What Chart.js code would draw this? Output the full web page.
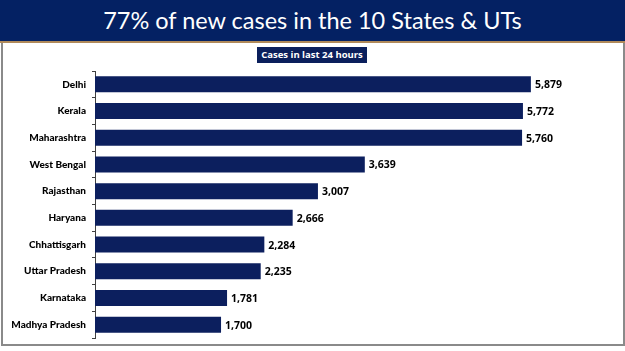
<!DOCTYPE html>
<html>
<head>
<meta charset="utf-8">
<script src="https://cdn.jsdelivr.net/npm/chart.js@4"></script>
<style>
  html, body { margin: 0; padding: 0; background: #ffffff; }
  #wrap { position: relative; width: 625px; height: 351px; overflow: hidden; background: #fff; }
  #band { position: absolute; left: 0; top: 0; width: 625px; height: 41px; background: #042163;
          border-bottom: 2px solid #b08a5a; box-sizing: content-box; }
  #title { position: absolute; left: 0; top: 4px; width: 625px; text-align: center; color: #ffffff;
           font-family: Lato, "Open Sans", sans-serif; font-size: 23.5px; line-height: 32px; }
  #panel { position: absolute; left: 1px; top: 43px; width: 620px; height: 301px;
           border-left: 2px solid #8a8a8a; border-right: 2px solid #8a8a8a; border-bottom: 2px solid #8a8a8a; }
  #sub { position: absolute; left: 257px; top: 47px; width: 110px; height: 16px; background: #0a1f5c;
         color: #fff; font-family: "Open Sans", sans-serif; font-weight: bold; font-size: 9.5px;
         line-height: 16px; text-align: center; white-space: nowrap; }
  canvas { position: absolute; left: 0; top: 0; }
</style>
</head>
<body>
<div id="wrap">
  <div id="band"><div id="title">77% of new cases in the 10 States &amp; UTs</div></div>
  <div id="panel"></div>
  <div id="sub">Cases in last 24 hours</div>
  <canvas id="c" width="625" height="351"></canvas>
</div>
<script>
const states = ["Delhi", "Kerala", "Maharashtra", "West Bengal", "Rajasthan", "Haryana", "Chhattisgarh", "Uttar Pradesh", "Karnataka", "Madhya Pradesh"];
const cases = [5879, 5772, 5760, 3639, 3007, 2666, 2284, 2235, 1781, 1700];

const valueLabels = {
  id: 'valueLabels',
  afterDatasetsDraw(chart) {
    const ctx = chart.ctx;
    const meta = chart.getDatasetMeta(0);
    ctx.save();
    ctx.font = 'bold 10.5px "Open Sans", sans-serif';
    ctx.fillStyle = '#000';
    ctx.textAlign = 'left';
    ctx.textBaseline = 'middle';
    meta.data.forEach((bar, i) => {
      ctx.fillText(cases[i].toLocaleString('en-US'), bar.x + 4, bar.y + 1);
    });
    ctx.restore();
  }
};

new Chart(document.getElementById('c'), {
  type: 'bar',
  data: {
    labels: states,
    datasets: [{
      data: cases,
      backgroundColor: '#0c1f5e',
      borderWidth: 0,
      categoryPercentage: 0.6,
      barPercentage: 1.0
    }]
  },
  options: {
    indexAxis: 'y',
    responsive: false,
    animation: false,
    layout: { padding: { top: 71, bottom: 13, left: 0, right: 11 } },
    plugins: { legend: { display: false }, tooltip: { enabled: false }, title: { display: false } },
    scales: {
      x: { display: false, min: 0, max: 7000 },
      y: {
        afterFit(scale) { scale.width = 95; },
        grid: { display: true, offset: true, drawOnChartArea: false, tickLength: 3, color: '#404040', lineWidth: 1 },
        border: { display: true, color: '#404040', width: 1 },
        ticks: { color: '#000', padding: 6, font: { family: 'Lato, sans-serif', weight: 900, size: 10 } }
      }
    }
  },
  plugins: [valueLabels]
});
</script>
</body>
</html>
